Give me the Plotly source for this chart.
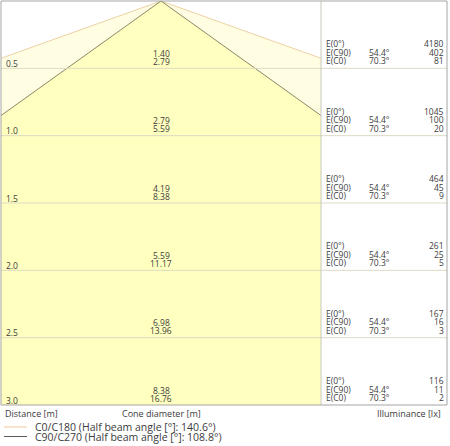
import numpy as np
import plotly.graph_objects as go

# Data
distances = [0.5, 1.0, 1.5, 2.0, 2.5, 3.0]
diam_c90 = [1.40, 2.79, 4.19, 5.59, 6.98, 8.38]
diam_c0 = [2.79, 5.59, 8.38, 11.17, 13.96, 16.76]
e_center = [4180, 1045, 464, 261, 167, 116]
e_c90 = [402, 100, 45, 25, 16, 11]
e_c0 = [81, 20, 9, 5, 3, 2]
beam_c0 = 140.6   # C0/C180 half beam angle
beam_c90 = 108.8  # C90/C270 half beam angle
row_names = ['E(0°)', 'E(C90)', 'E(C0)']

# geometry (meters) of the drawing area
W, H = 450, 446
ml, mr, mt, mb = 1, 3, 1, 41
apex_px = 161
k = (405 - 1) / 3.0            # px per meter
x_lo = (ml - apex_px) / k
x_hi = (W - mr - apex_px) / k
x_div = (321 - apex_px) / k    # cone area / table divider
d_max = 3.0

def px(x):
    return (x - apex_px) / k

text_col = '#3c3c3c'
font = dict(family='Open Sans, Noto Sans, Arial', size=8.5, color=text_col)
font_l = dict(family='Open Sans, Noto Sans, Arial', size=9, color=text_col)
font_lg = dict(family='Open Sans, Noto Sans, Arial', size=10.5, color=text_col)

C0_LINE = 'rgb(236,208,165)'
C90_LINE = 'rgb(140,134,104)'
FILL_OUT = 'rgb(255,254,226)'
FILL_IN = 'rgb(255,255,192)'
GRID = 'rgb(222,218,196)'
FRAME = 'rgb(165,165,165)'


def cone(angle_full):
    t = np.tan(np.radians(angle_full / 2))
    d_r = min(x_div / t, d_max)
    d_l = min(-x_lo / t, d_max)
    xs = [0, min(t * d_r, x_div), min(t * d_max, x_div), max(-t * d_max, x_lo), max(-t * d_l, x_lo), 0]
    ys = [0, d_r, d_max, d_max, d_l, 0]
    edge_x = [max(-t * d_l, x_lo), 0, min(t * d_r, x_div)]
    edge_y = [d_l, 0, d_r]
    return xs, ys, edge_x, edge_y


fig = go.Figure()

for ang, fill in [(beam_c0, FILL_OUT), (beam_c90, FILL_IN)]:
    xs, ys, ex, ey = cone(ang)
    fig.add_trace(go.Scatter(x=xs, y=ys, fill='toself', fillcolor=fill,
                             mode='none', hoverinfo='skip', showlegend=False))

for ang, line in [(beam_c0, C0_LINE), (beam_c90, C90_LINE)]:
    xs, ys, ex, ey = cone(ang)
    fig.add_trace(go.Scatter(x=ex, y=ey, mode='lines', line=dict(color=line, width=1),
                             hoverinfo='skip', showlegend=False))

shapes = []
# horizontal distance lines
for d in distances[:-1]:
    shapes.append(dict(type='line', xref='paper', x0=0, x1=1, yref='y', y0=d, y1=d,
                       line=dict(color=GRID, width=1)))
# divider
shapes.append(dict(type='line', xref='x', x0=x_div, x1=x_div, yref='paper', y0=0, y1=1,
                   line=dict(color='rgb(200,200,190)', width=1)))
# frame
shapes.append(dict(type='rect', xref='paper', yref='paper', x0=0, x1=1, y0=0, y1=1,
                   line=dict(color=FRAME, width=1)))

ann = []
for i, d in enumerate(distances):
    ann.append(dict(x=px(4), y=d, xref='x', yref='y', text=f'{d:.1f}', showarrow=False,
                    xanchor='left', yanchor='middle', yshift=5, font=font))
    ann.append(dict(x=0, y=d, xref='x', yref='y', text=f'{diam_c90[i]:.2f}', showarrow=False,
                    xanchor='center', yanchor='middle', yshift=15, font=font, borderpad=0))
    ann.append(dict(x=0, y=d, xref='x', yref='y', text=f'{diam_c0[i]:.2f}', showarrow=False,
                    xanchor='center', yanchor='middle', yshift=7, font=font, borderpad=0))
    vals = [e_center[i], e_c90[i], e_c0[i]]
    angs = ['', f'{beam_c90 / 2:.1f}°', f'{beam_c0 / 2:.1f}°']
    for j in range(3):
        ys = 24.5 - 8.5 * j
        ann.append(dict(x=px(325), y=d, xref='x', yref='y', text=row_names[j], showarrow=False,
                        xanchor='left', yanchor='middle', yshift=ys, font=font, borderpad=0))
        if angs[j]:
            ann.append(dict(x=px(391), y=d, xref='x', yref='y', text=angs[j], showarrow=False,
                            xanchor='right', yanchor='middle', yshift=ys, font=font, borderpad=0))
        ann.append(dict(x=px(445), y=d, xref='x', yref='y', text=str(vals[j]), showarrow=False,
                        xanchor='right', yanchor='middle', yshift=ys, font=font, borderpad=0))

# footer labels
ann.append(dict(x=px(3), y=0, xref='x', yref='paper', text='Distance [m]', showarrow=False,
                xanchor='left', yanchor='middle', yshift=-8, font=font_l))
ann.append(dict(x=0, y=0, xref='x', yref='paper', text='Cone diameter [m]', showarrow=False,
                xanchor='center', yanchor='middle', yshift=-8, font=font_l))
ann.append(dict(x=px(443), y=0, xref='x', yref='paper', text='Illuminance [lx]', showarrow=False,
                xanchor='right', yanchor='middle', yshift=-8, font=font_l))

# legend (below the frame)
plot_h = H - mt - mb
for j, (lab, ang, col) in enumerate([('C0/C180', beam_c0, 'rgb(245,200,150)'),
                                     ('C90/C270', beam_c90, 'rgb(90,90,90)')]):
    off = 22 + 9.5 * j
    yy = -off / plot_h
    shapes.append(dict(type='line', xref='x', yref='paper', x0=px(4), x1=px(27), y0=yy, y1=yy,
                       line=dict(color=col, width=1)))
    ann.append(dict(x=px(34), y=0, xref='x', yref='paper',
                    text=f'{lab} (Half beam angle [°]: {ang:.1f}°)', showarrow=False,
                    xanchor='left', yanchor='middle', yshift=-off, font=font_lg, borderpad=0))

fig.update_layout(
    width=W, height=H,
    margin=dict(l=ml, r=mr, t=mt, b=mb),
    paper_bgcolor='white', plot_bgcolor='white',
    shapes=shapes, annotations=ann, showlegend=False,
    xaxis=dict(range=[x_lo, x_hi], visible=False, fixedrange=True),
    yaxis=dict(range=[d_max, 0], visible=False, fixedrange=True),
)

fig.write_html('out.html', config={'displayModeBar': False},
               post_script="document.body.style.margin='0';")
